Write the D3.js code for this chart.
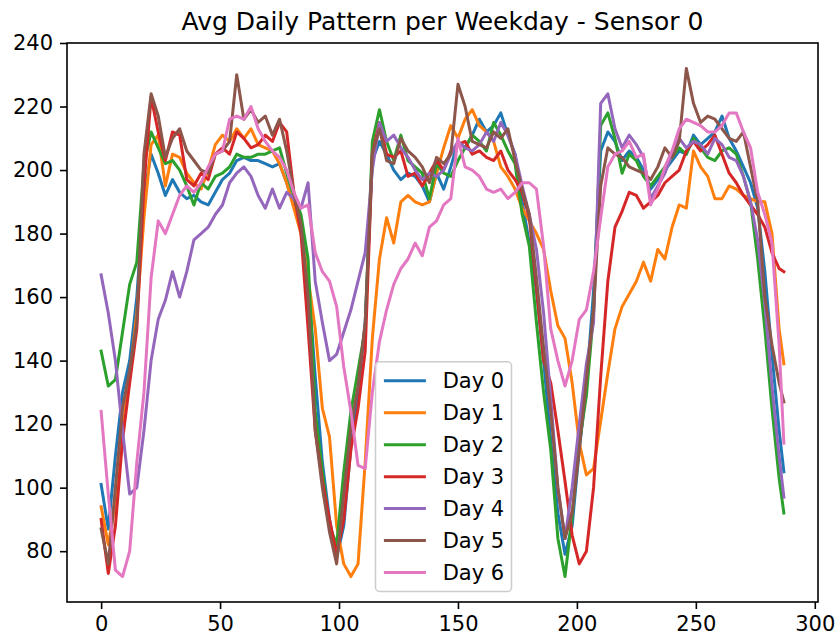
<!DOCTYPE html>
<html>
<head>
<meta charset="utf-8">
<script src="https://cdn.jsdelivr.net/npm/d3@7"></script>
<style>
  body { margin: 0; background: #fff; }
  text { font-family: "DejaVu Sans", sans-serif; }
</style>
</head>
<body>
<div id="chart"></div>
<script>
// time index (5 min slots) of each sample
var sampleIdx = [0,3,6,9,12,15,18,21,24,27, 30,33,36,39,42,45,48,51,54,57,
  60,63,66,69,72,75,78,81,84,87, 90,93,96,99,102,105,108,111,114,117,
  120,123,126,129,132,135,138,141,144,147, 150,153,156,159,162,165,168,171,174,177,
  180,183,186,189,192,195,198,201,204,207, 210,213,216,219,222,225,228,231,234,237,
  240,243,246,249,252,255,258,261,264,267, 270,273,276,279,282,285,287];

var xTicks = [0, 50, 100, 150, 200, 250, 300];
var yTicks = [80, 100, 120, 140, 160, 180, 200, 220, 240];
var dayNames = ["Day 0", "Day 1", "Day 2", "Day 3", "Day 4", "Day 5", "Day 6"];
var chartTitle = "Avg Daily Pattern per Weekday - Sensor 0";

var day0 = [101,87,110,130,140,160,192,205,199,192, 197,193,191,192,190,189,193,197,199,203,
  204,203,203,202,201,202,196,189,182,166, 135,108,90,78,88,113,130,152,203,209,
  205,200,197,199,198,195,190,199,194,201, 209,207,211,216,212,214,218,211,205,190,
  177,162,140,115,92,79,88,112,132,162, 206,212,209,203,206,204,200,194,197,200,
  203,206,205,211,208,210,212,217,210,206, 201,196,188,168,142,118,105];
var day1 = [94,82,95,118,135,155,185,208,211,195, 205,204,199,196,194,200,208,211,209,213,
  210,213,208,207,206,202,196,188,180,166, 150,125,116,88,76,72,76,108,147,172,
  185,177,190,192,190,189,190,199,207,214, 210,216,219,214,212,209,201,198,194,188,
  184,180,175,162,151,147,133,114,104,106, 121,136,150,157,161,165,171,165,175,172,
  182,189,188,206,201,198,191,191,195,194, 192,191,190,190,180,150,139];
var day2 = [143,132,134,149,164,171,202,212,207,202, 203,200,195,189,196,194,198,199,201,205,
  204,204,205,205,206,207,199,192,186,172, 124,105,88,82,105,124,137,150,209,219,
  209,203,211,203,201,199,191,202,199,198, 203,207,211,209,206,215,211,206,202,186,
  176,152,130,112,84,72,91,114,129,155, 214,218,210,199,205,203,198,195,198,201,
  204,207,205,210,207,204,203,206,207,205, 198,190,172,150,125,103,92];
var day3 = [90,73,88,115,133,150,195,223,212,203, 212,211,197,195,199,197,205,207,205,212,
  210,207,208,211,209,215,212,193,180,150, 118,102,90,79,90,112,125,143,205,215,
  205,204,206,198,199,195,199,203,200,206, 208,209,205,206,204,203,206,200,197,193,
  185,163,140,133,118,102,85,76,80,100, 135,165,182,187,193,192,188,190,192,196,
  198,200,206,209,206,208,211,205,199,196, 192,189,186,182,174,169,168];
var day4 = [167,155,140,118,98,100,118,140,153,159, 168,160,168,178,180,182,186,189,196,199,
  201,198,192,188,194,188,193,191,188,196, 165,152,140,142,149,156,165,174,200,215,
  209,211,207,204,200,197,199,198,200,205, 209,207,206,208,212,209,215,211,205,195,
  186,175,155,128,100,84,100,120,139,152, 221,224,213,207,211,208,204,191,195,199,
  205,210,207,209,208,205,210,208,204,203, 198,190,178,158,132,110,97];
var day5 = [87,76,100,125,137,152,205,224,217,204, 210,213,206,203,200,199,205,206,209,230,
  216,219,215,217,211,216,206,193,183,160, 118,100,86,76,98,119,132,152,205,213,
  203,202,210,206,204,201,196,204,202,205, 227,220,209,208,207,212,210,213,203,194,
  186,166,144,124,100,84,92,112,134,156, 195,207,205,204,201,200,199,197,201,207,
  204,209,232,221,215,217,216,213,210,209, 212,201,190,160,145,133,127];
var day6 = [124,98,74,72,80,108,130,166,184,180, 186,192,195,193,196,201,205,206,216,217,
  216,220,213,209,206,204,200,193,188,189, 174,168,165,157,138,124,107,106,130,146,
  156,164,169,172,177,173,182,184,189,191, 210,201,200,198,194,193,194,191,193,196,
  196,194,176,150,140,132,140,153,156,168, 185,201,205,206,209,204,205,189,194,201,
  206,213,216,215,214,212,212,214,218,218, 212,207,193,186,177,145,114];

var allDays = [day0, day1, day2, day3, day4, day5, day6];
var color = d3.scaleOrdinal()
    .domain(dayNames)
    .range(["#1f77b4", "#ff7f0e", "#2ca02c", "#d62728", "#9467bd", "#8c564b", "#e377c2"]);

var W = 836, H = 642;
var margin = {top: 43, right: 18, bottom: 40, left: 67};
var width = W - margin.left - margin.right,
    height = H - margin.top - margin.bottom;
var fs = 21; // 10pt text at the figure's dpi

var svg = d3.select("#chart").append("svg")
    .attr("width", W)
    .attr("height", H);
svg.append("rect").attr("width", W).attr("height", H).attr("fill", "#fff");

var g = svg.append("g")
    .attr("transform", "translate(" + margin.left + "," + margin.top + ")");

// matplotlib style auto limits: data extent plus 5% margin
var xExt = d3.extent(sampleIdx),
    yExt = d3.extent(d3.merge(allDays));
var xPad = (xExt[1] - xExt[0]) * 0.05,
    yPad = (yExt[1] - yExt[0]) * 0.05;
var x = d3.scaleLinear().domain([xExt[0] - xPad, xExt[1] + xPad]).range([0, width]);
var y = d3.scaleLinear().domain([yExt[0] - yPad, yExt[1] + yPad]).range([height, 0]);

var line = d3.line()
    .x(function(d, i) { return x(sampleIdx[i]); })
    .y(function(d) { return y(d); });

g.selectAll(".day")
  .data(allDays)
  .enter()
  .append("path")
  .attr("class", "day")
  .attr("d", line)
  .attr("fill", "none")
  .attr("stroke", function(d, i) { return color(dayNames[i]); })
  .attr("stroke-width", 3)
  .attr("stroke-linejoin", "round")
  .attr("stroke-linecap", "square");

// axes
var xAxis = g.append("g")
    .attr("transform", "translate(0," + height + ")")
    .call(d3.axisBottom(x).tickValues(xTicks).tickSize(7).tickPadding(7).tickSizeOuter(0));
var yAxis = g.append("g")
    .call(d3.axisLeft(y).tickValues(yTicks).tickSize(7).tickPadding(7).tickSizeOuter(0));

[xAxis, yAxis].forEach(function(a) {
  a.select(".domain").remove();
  a.selectAll("line").attr("stroke", "#000").attr("stroke-width", 1.6);
  a.selectAll("text")
    .attr("font-family", "DejaVu Sans, sans-serif")
    .attr("font-size", fs + "px")
    .attr("fill", "#000");
});

// frame
g.append("rect")
  .attr("width", width)
  .attr("height", height)
  .attr("fill", "none")
  .attr("stroke", "#000")
  .attr("stroke-width", 1.6);

// title
svg.append("text")
  .attr("x", margin.left + width / 2)
  .attr("y", margin.top - 13)
  .attr("text-anchor", "middle")
  .attr("font-size", "25px")
  .attr("fill", "#000")
  .text(chartTitle);

// legend, lower center
var pad = 0.4 * fs, rowH = 1.02 * fs, gap = 0.5 * fs,
    handleLen = 2 * fs, textPad = 0.8 * fs;
var legW = 136;
var legH = 2 * pad + dayNames.length * rowH + (dayNames.length - 1) * gap;
var legX = width / 2 - legW / 2 + 1,
    legY = height - 0.5 * fs - legH;

var leg = g.append("g")
    .attr("transform", "translate(" + legX + "," + legY + ")");
leg.append("rect")
  .attr("width", legW)
  .attr("height", legH)
  .attr("rx", 4)
  .attr("fill", "#fff")
  .attr("fill-opacity", 0.8)
  .attr("stroke", "#cccccc")
  .attr("stroke-width", 1.5);

var item = leg.selectAll(".item")
  .data(dayNames)
  .enter()
  .append("g")
  .attr("transform", function(d, i) {
    return "translate(" + pad + "," + (pad + i * (rowH + gap) + rowH / 2) + ")";
  });
item.append("line")
  .attr("x1", 0).attr("x2", handleLen)
  .attr("stroke", function(d) { return color(d); })
  .attr("stroke-width", 3);
item.append("text")
  .attr("x", handleLen + textPad)
  .attr("dy", "0.36em")
  .attr("font-size", fs + "px")
  .attr("fill", "#000")
  .text(function(d) { return d; });
</script>
</body>
</html>
